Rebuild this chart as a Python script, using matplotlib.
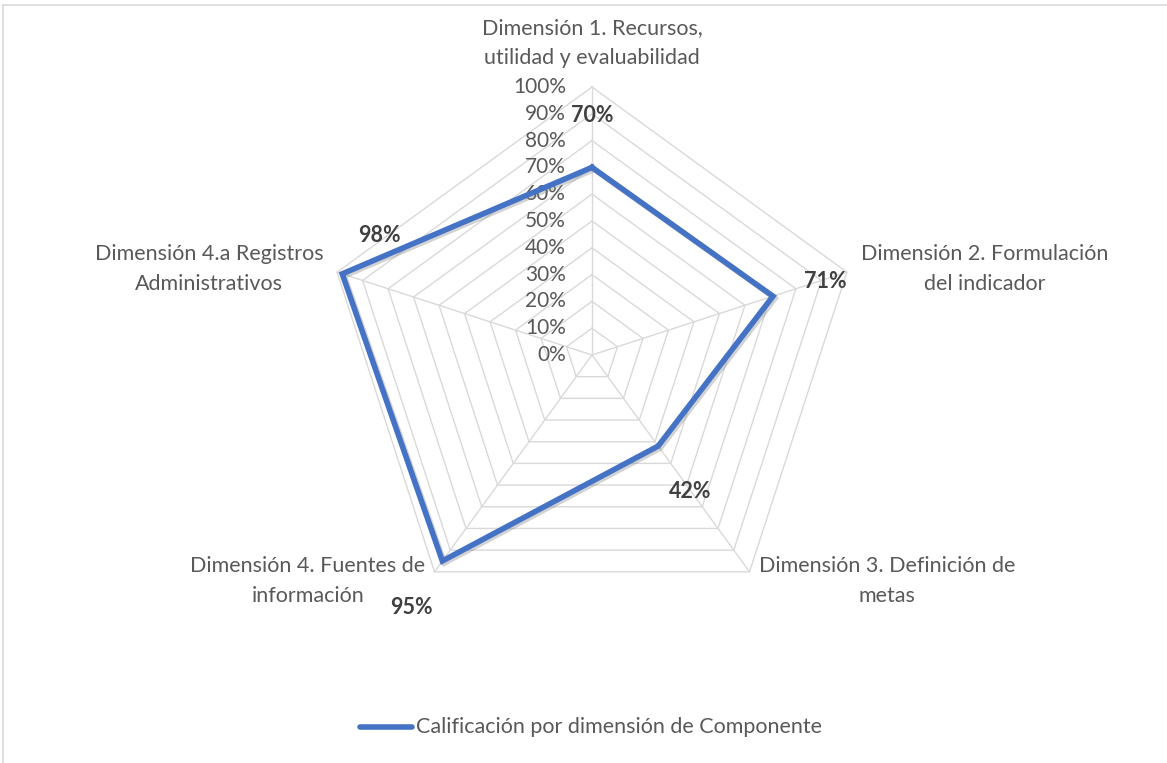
import numpy as np
import matplotlib
matplotlib.use("Agg")
import matplotlib.pyplot as plt
import matplotlib.patheffects as pe

categories = ["Dimensión 1. Recursos,\nutilidad y evaluabilidad",
              "Dimensión 2. Formulación\ndel indicador",
              "Dimensión 3. Definición de\nmetas",
              "Dimensión 4. Fuentes de\ninformación",
              "Dimensión 4.a Registros\nAdministrativos"]
values = [0.70, 0.71, 0.42, 0.95, 0.98]
value_labels = ["70%", "71%", "42%", "95%", "98%"]
ticks = [0.0, 0.1, 0.2, 0.3, 0.4, 0.5, 0.6, 0.7, 0.8, 0.9, 1.0]
tick_labels = ["0%", "10%", "20%", "30%", "40%", "50%", "60%", "70%", "80%", "90%", "100%"]
series_name = "Calificación por dimensión de Componente"

W, H = 1167, 763
fig = plt.figure(figsize=(W / 100, H / 100), dpi=100)
ax = fig.add_axes([0, 0, 1, 1])
ax.set_xlim(0, W)
ax.set_ylim(H, 0)
ax.axis("off")

FONT = "Lato"
TXT = "#595959"
FS = 15.5
cx, cy, R = 592, 355, 268
n = len(categories)
ang = np.pi / 2 - 2 * np.pi * np.arange(n) / n


def xy(r, a):
    return cx + R * r * np.cos(a), cy - R * r * np.sin(a)


# border
ax.plot([3, W], [5, 5], color="#d9d9d9", lw=1.2)
ax.plot([3, 3], [5, H], color="#d9d9d9", lw=1.2)

# grid rings
for t in ticks[1:]:
    a = np.append(ang, ang[0])
    x, y = xy(t, a)
    ax.plot(x, y, color="#d9d9d9", lw=1.0, zorder=1)
# spokes
for a in ang:
    x, y = xy(np.array([0, 1.0]), a)
    ax.plot(x, y, color="#d9d9d9", lw=1.0, zorder=1)

# tick labels
for t, lab in zip(ticks, tick_labels):
    ax.text(cx - 26, cy - R * t, lab, ha="right", va="center", fontsize=15,
            color=TXT, family=FONT, zorder=2)

# series
vals = np.append(values, values[0])
a = np.append(ang, ang[0])
x, y = xy(vals, a)
ax.plot(x, y, color="#4472C4", lw=4.0, zorder=3, solid_joinstyle="miter",
        path_effects=[pe.SimpleLineShadow(offset=(1.5, -1.5), shadow_color="gray", alpha=0.35),
                      pe.Normal()])

# data labels
dl_pos = [(592, 115), (825, 282), (690, 492), (411, 607), (379, 236)]
for (px, py), lab in zip(dl_pos, value_labels):
    ax.text(px, py, lab, ha="center", va="center", fontsize=FS, fontweight="bold",
            color="#404040", family=FONT, zorder=4)

# category labels (one text per line)
cat_pos = [(592, 28), (985, 254), (887, 566), (308, 566), (209, 254)]
LINE = 29.5
for (px, py), lab in zip(cat_pos, categories):
    for i, line in enumerate(lab.split("\n")):
        ax.text(px, py + i * LINE, line, ha="center", va="center", fontsize=FS,
                color=TXT, family=FONT, zorder=4)

# legend
ax.plot([360, 412], [727, 727], color="#4472C4", lw=4.0, solid_capstyle="round")
ax.text(416, 727, series_name, ha="left", va="center", fontsize=FS, color=TXT, family=FONT)

fig.savefig("out.png", dpi=100, facecolor="white")
